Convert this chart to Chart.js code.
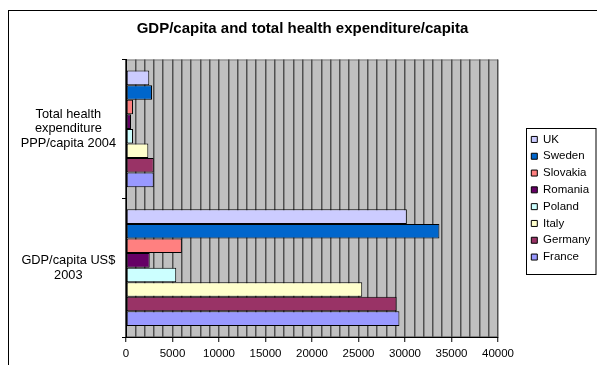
<!DOCTYPE html>
<html>
<head>
<meta charset="utf-8">
<script src="https://cdn.jsdelivr.net/npm/chart.js@4/dist/chart.umd.min.js"></script>
<style>
  html, body { margin: 0; padding: 0; background: #fff; }
  #wrap { width: 597px; height: 365px; }
</style>
</head>
<body>
<div id="wrap"><canvas id="chart"></canvas></div>
<script>
// categories, top to bottom
var categories = [
    ['Total health', 'expenditure', 'PPP/capita 2004'],
    ['GDP/capita US$', '2003']
];

// [health expenditure, GDP] per country
var uk = [2500, 30200];
var sweden = [2800, 33700];
var slovakia = [750, 6000];
var romania = [540, 2550];
var poland = [750, 5400];
var italy = [2400, 25400];
var germany = [2980, 29100];
var france = [2980, 29400];

var xTicks = [0, 5000, 10000, 15000, 20000, 25000, 30000, 35000, 40000];

var FONT = 'Arial, "Liberation Sans", sans-serif';

function serie(label, data, color) {
    return {
        label: label,
        data: data,
        backgroundColor: color,
        borderColor: '#000000',
        borderWidth: 1,
        borderSkipped: false
    };
}

// grey plot area, outer frame and legend box
var frame = {
    id: 'frame',
    beforeDraw: function (chart) {
        var ctx = chart.ctx;
        var a = chart.chartArea;
        ctx.save();
        ctx.fillStyle = '#C0C0C0';
        ctx.fillRect(a.left, a.top, a.right - a.left, a.bottom - a.top);
        ctx.strokeStyle = '#808080';
        ctx.lineWidth = 1;
        ctx.strokeRect(a.left + 0.5, a.top + 0.5, a.right - a.left - 1, a.bottom - a.top - 1);
        ctx.strokeStyle = '#000000';
        ctx.strokeRect(8.5, 10.5, 800, 800);
        ctx.restore();
    },
    afterDraw: function (chart) {
        var lg = chart.legend;
        var boxes = lg.legendHitBoxes;
        if (!boxes || !boxes.length) return;
        var first = boxes[0];
        var last = boxes[boxes.length - 1];
        var ctx = chart.ctx;
        ctx.save();
        ctx.strokeStyle = '#000000';
        ctx.lineWidth = 1;
        var x = Math.round(lg.left) + 0.5;
        var top = Math.round(first.top - 6);
        var bottom = Math.round(last.top + last.height + 11);
        ctx.strokeRect(x, top + 0.5, chart.width - 1 - x, bottom - top);
        ctx.restore();
    }
};

new Chart(document.getElementById('chart'), {
    type: 'bar',
    data: {
        labels: categories,
        datasets: [
            serie('UK', uk, '#CCCCFF'),
            serie('Sweden', sweden, '#0066CC'),
            serie('Slovakia', slovakia, '#FF8080'),
            serie('Romania', romania, '#660066'),
            serie('Poland', poland, '#CCFFFF'),
            serie('Italy', italy, '#FFFFCC'),
            serie('Germany', germany, '#993366'),
            serie('France', france, '#9999FF')
        ]
    },
    options: {
        indexAxis: 'y',
        responsive: true,
        maintainAspectRatio: false,
        animation: false,
        datasets: {
            bar: { categoryPercentage: 0.84, barPercentage: 1 }
        },
        layout: { padding: { left: 8, right: 0, top: 0, bottom: 0 } },
        scales: {
            x: {
                min: 0,
                max: 40000,
                afterFit: function (scale) { scale.height = 28; },
                ticks: {
                    stepSize: 1000,
                    autoSkip: false,
                    maxRotation: 0,
                    padding: 5,
                    color: '#000000',
                    font: { family: FONT, size: 11.5 },
                    callback: function (v) { return xTicks.indexOf(v) >= 0 ? String(v) : ''; }
                },
                grid: {
                    color: '#505050',
                    lineWidth: 1.5,
                    tickLength: 5,
                    tickWidth: 1,
                    tickColor: function (c) {
                        return c.tick && xTicks.indexOf(c.tick.value) >= 0 ? '#000000' : 'rgba(0,0,0,0)';
                    }
                },
                border: { color: '#000000', width: 1 }
            },
            y: {
                afterFit: function (scale) {
                    scale.width = 118;
                    scale.paddingTop = 0;
                    scale.paddingBottom = 0;
                },
                ticks: {
                    crossAlign: 'center',
                    padding: 6,
                    color: '#000000',
                    font: { family: FONT, size: 12.8, lineHeight: 1.15 }
                },
                grid: {
                    drawOnChartArea: false,
                    tickLength: 4,
                    tickColor: '#000000'
                },
                border: { color: '#000000', width: 1 }
            },
            // empty axis keeping a gap between plot and legend
            gap: {
                type: 'linear',
                position: 'right',
                afterFit: function (scale) {
                    scale.width = 28;
                    scale.paddingTop = 0;
                    scale.paddingBottom = 0;
                },
                ticks: { display: false },
                grid: { display: false, drawTicks: false },
                border: { display: false }
            }
        },
        plugins: {
            title: {
                display: true,
                text: 'GDP/capita and total health expenditure/capita',
                color: '#000000',
                font: { family: FONT, size: 15, weight: 'bold' },
                padding: { top: 20, bottom: 21.5 }
            },
            legend: {
                position: 'right',
                fullSize: false,
                maxWidth: 71,
                labels: {
                    boxWidth: 6,
                    boxHeight: 6,
                    padding: 5.3,
                    color: '#000000',
                    font: { family: FONT, size: 11.5 }
                }
            },
            tooltip: { enabled: false }
        }
    },
    plugins: [frame]
});
</script>
</body>
</html>
